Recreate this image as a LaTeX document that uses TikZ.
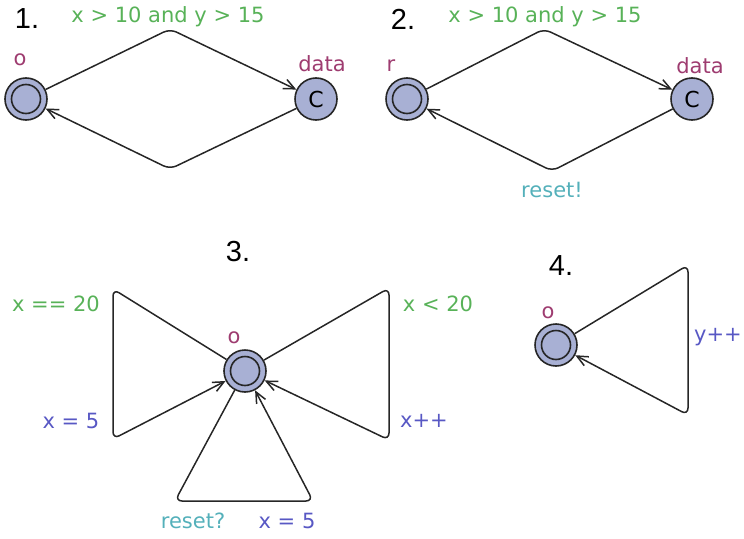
\documentclass[tikz,border=0pt]{standalone}
\usepackage{fontspec}
\setmainfont{DejaVu Sans}
\newfontfamily\numfont{Liberation Sans}
\usetikzlibrary{arrows.meta}
\definecolor{LocFill}{RGB}{168, 176, 212}
\definecolor{GuardGreen}{RGB}{88, 178, 88}
\definecolor{AssignBlue}{RGB}{88, 88, 196}
\definecolor{NameRed}{RGB}{158, 60, 112}
\definecolor{SyncTeal}{RGB}{84, 176, 186}
\tikzset{
    loc/.style={circle, draw=black!85, line width=1.6pt, fill=LocFill, minimum size=42pt, inner sep=0pt, font=\fontsize{22}{24}\selectfont},
    initloc/.style={loc, path picture={\draw[black!85, line width=1.6pt] (path picture bounding box.center) circle (14.5pt);}},
    edge/.style={-{Straight Barb[length=11pt, width=10pt]}, line width=1.5pt, color=black!85, rounded corners=7pt},
    txt/.style={inner sep=0pt, font=\fontsize{21}{23}\selectfont},
    numlabel/.style={inner sep=0pt, font=\numfont\fontsize{29}{31}\selectfont},
    guard/.style={txt, text=GuardGreen},
    assign/.style={txt, text=AssignBlue},
    locname/.style={txt, text=NameRed},
    sync/.style={txt, text=SyncTeal}
}
\begin{document}
\begin{tikzpicture}[x=1pt, y=-1pt]
    \useasboundingbox (0,0) rectangle (744,538);

    % 1.
    \node[numlabel] (n1) at (27, 19) {1.};
    \node[initloc] (o1) at (26, 99) {};
    \node[loc] (data1) at (316, 99) {C};
    \coordinate (t1) at (170, 29);
    \coordinate (b1) at (170, 169);
    \node[locname] (lo1) at (20, 60) {o};
    \node[locname] (ldata1) at (322, 64) {data};
    \node[guard] (g1) at (168, 17) {x > 10 and y > 15};
    \draw[edge] (o1) -- (t1) -- (data1);
    \draw[edge] (data1) -- (b1) -- (o1);

    % 2.
    \node[numlabel] (n2) at (403, 19) {2.};
    \node[initloc] (r2) at (407, 99) {};
    \node[loc] (data2) at (692, 99) {C};
    \coordinate (t2) at (544, 29);
    \coordinate (b2) at (552, 171);
    \node[locname] (lr2) at (391, 66) {r};
    \node[locname] (ldata2) at (700, 66) {data};
    \node[guard] (g2) at (545, 17) {x > 10 and y > 15};
    \node[sync] (s2) at (552, 190) {reset!};
    \draw[edge] (r2) -- (t2) -- (data2);
    \draw[edge] (data2) -- (b2) -- (r2);

    % 3.
    \node[numlabel] (n3) at (238, 252) {3.};
    \node[initloc] (o3) at (245, 371) {};
    \node[locname] (lo3) at (234, 338) {o};
    \coordinate (lt3) at (113, 289);
    \coordinate (lb3) at (113, 439);
    \coordinate (rt3) at (389, 288);
    \coordinate (rb3) at (389, 440);
    \coordinate (bl3) at (175, 501);
    \coordinate (br3) at (313, 501);
    \draw[edge] (o3) -- (lt3) -- (lb3) -- (o3);
    \draw[edge] (o3) -- (rt3) -- (rb3) -- (o3);
    \draw[edge] (o3) -- (bl3) -- (br3) -- (o3);
    \node[guard] (g3l) at (56, 304) {x == 20};
    \node[assign] (a3l) at (71, 421) {x = 5};
    \node[guard] (g3r) at (438, 304) {x < 20};
    \node[assign] (a3r) at (424, 421) {x++};
    \node[sync] (s3) at (193, 521) {reset?};
    \node[assign] (a3b) at (287, 521) {x = 5};

    % 4.
    \node[numlabel] (n4) at (561, 266) {4.};
    \node[initloc] (o4) at (556, 345) {};
    \node[locname] (lo4) at (548, 313) {o};
    \coordinate (t4) at (688, 265);
    \coordinate (b4) at (688, 415);
    \node[assign] (a4) at (718, 337) {y++};
    \draw[edge] (o4) -- (t4) -- (b4) -- (o4);
\end{tikzpicture}
\end{document}
